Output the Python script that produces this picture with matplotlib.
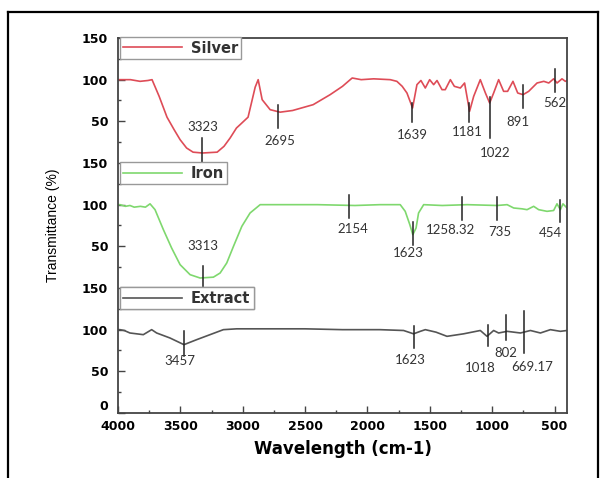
import matplotlib
matplotlib.use("Agg")
import matplotlib.pyplot as plt
from matplotlib.lines import Line2D

# stacked FTIR spectra, transmittance values
silver_wn = [4000, 3900, 3823, 3760, 3727, 3670, 3607, 3550, 3502, 3450, 3398, 3323, 3205, 3150,
             3101, 3050, 3021, 2957, 2900, 2876, 2844, 2780, 2700, 2600, 2435, 2299, 2200, 2138,
             2122, 2050, 1950, 1817, 1764, 1721, 1683, 1638, 1603, 1571, 1536, 1501, 1469, 1442,
             1402, 1376, 1335, 1303, 1255, 1221, 1181, 1148, 1095, 1054, 1020, 988, 948, 908, 876,
             833, 795, 752, 707, 640, 586, 546, 507, 480, 440, 413, 400]
silver_t = [100, 100, 98, 99, 100, 80, 55, 40, 28, 18, 13, 12, 13, 20,
            30, 42, 46, 55, 91, 100, 76, 64, 61, 63, 70, 82, 92, 100,
            102, 100, 101, 100, 98, 92, 84, 66, 94, 99, 90, 100, 94, 99,
            88, 88, 100, 92, 90, 96, 62, 80, 100, 84, 72, 84, 100, 86, 86,
            98, 84, 82, 86, 96, 98, 96, 101, 96, 101, 98, 99]

iron_wn = [4000, 3984, 3940, 3904, 3870, 3820, 3780, 3743, 3703, 3636, 3570, 3502, 3422, 3342,
           3235, 3181, 3128, 3074, 3007, 2941, 2860, 2700, 2400, 2100, 1900, 1737, 1697, 1660,
           1636, 1610, 1590, 1549, 1400, 1200, 961, 880, 827, 760, 720, 667, 627, 560, 507, 480,
           453, 432, 400]
iron_t = [100, 100, 98, 99, 97, 98, 97, 101, 94, 70, 48, 28, 16, 12,
          13, 18, 30, 50, 74, 90, 100, 100, 100, 99, 100, 100, 92, 76,
          64, 72, 90, 100, 99, 100, 99, 100, 96, 95, 94, 98, 94, 92, 93, 101,
          94, 101, 96]

extract_wn = [4000, 3984, 3950, 3904, 3850, 3797, 3730, 3690, 3583, 3471, 3369, 3262, 3155, 3048,
              2800, 2500, 2200, 1900, 1710, 1630, 1576, 1536, 1450, 1362, 1229, 1095, 1041, 988,
              948, 880, 773, 693, 613, 533, 453, 400]
extract_t = [100, 100, 99, 96, 95, 94, 100, 96, 90, 82, 88, 94, 100, 101,
             101, 101, 100, 100, 99, 95, 98, 100, 97, 92, 95, 99, 92, 99,
             96, 98, 96, 99, 96, 100, 98, 99]

names = ["Silver", "Iron", "Extract"]
offsets = [300, 150, 0]
colors = ["#de4c57", "#7fd86e", "#555555"]

# peak labels: (text, line x, line y top, line y bottom, text x, text y) in each series' units
silver_peaks = [("3323", 3324, 30, 1, 3323, 43), ("2695", 2716, 70, 42, 2700, 26),
                ("1639", 1640, 72, 49, 1640, 34), ("1181", 1183, 72, 49, 1199, 37),
                ("1022", 1021, 79, 30, 974, 12), ("891", 756, 94, 66, 790, 49),
                ("562", 493, 113, 85, 501, 72)]
iron_peaks = [("3313", 3315, 26, -2, 3318, 50), ("2154", 2144, 112, 84, 2114, 71),
              ("1623", 1636, 79, 52, 1673, 42), ("1258.32", 1242, 109, 82, 1335, 70),
              ("735", 961, 109, 82, 942, 67), ("454", 453, 106, 79, 533, 66)]
extract_peaks = [("3457", 3470, 98, 68, 3502, 62), ("1623", 1630, 104, 78, 1657, 64),
                 ("1018", 1036, 106, 80, 1095, 54), ("802", 886, 118, 88, 894, 72),
                 ("669.17", 747, 122, 72, 681, 55)]

yticks = [0, 50, 100, 150, 200, 250, 300, 350, 400, 450]
ytick_labels = ["0", "50", "100", "150", "50", "100", "150", "50", "100", "150"]
xticks = [4000, 3500, 3000, 2500, 2000, 1500, 1000, 500]

fig = plt.figure(figsize=(6.06, 4.78), dpi=100)
ax = fig.add_axes([0.1947, 0.136, 0.7409, 0.7845])

series = [(silver_wn, silver_t), (iron_wn, iron_t), (extract_wn, extract_t)]
peaks = [silver_peaks, iron_peaks, extract_peaks]
lines = []
for (wn, t), off, c, nm in zip(series, offsets, colors, names):
    ln, = ax.plot(wn, [v + off for v in t], color=c, lw=1.2, label=nm)
    lines.append(ln)

for pk, off in zip(peaks, offsets):
    for txt, lx, y1, y2, tx, ty in pk:
        ax.plot([lx, lx], [y1 + off, y2 + off], color="#222222", lw=1.1, clip_on=False)
        ax.text(tx, ty + off, txt, ha="center", va="center", fontsize=9.5,
                family=["Lato", "DejaVu Sans"], color="#333333")

ax.set_xlim(4000, 400)
ax.set_ylim(0, 450)
ax.set_xticks(xticks)
ax.set_xticks([3750, 3250, 2750, 2250, 1750, 1250, 750], minor=True)
ax.set_yticks(yticks)
ax.set_yticklabels(ytick_labels)
ax.set_yticks([v + 25 for v in yticks[:-1]], minor=True)
ax.tick_params(which="major", direction="in", length=5, width=1, color="#444444")
ax.tick_params(which="minor", direction="in", length=2.5, width=1, color="#444444")
ax.tick_params(axis="y", which="major", pad=7)
ax.tick_params(axis="x", which="major", pad=5)
for lab in ax.get_xticklabels() + ax.get_yticklabels():
    lab.set_fontweight("bold")
    lab.set_fontsize(9)
# nudge the "0" label up a little so it clears "4000"
ax.get_yticklabels()[0].set_va("bottom")
for sp in ax.spines.values():
    sp.set_color("#444444")
    sp.set_linewidth(1.3)

ax.set_xlabel("Wavelength (cm-1)", fontsize=12, fontweight="bold", labelpad=5)
ax.set_ylabel("Transmittance (%)", fontsize=10, family=["Liberation Sans Narrow", "Liberation Sans"],
              labelpad=16)

# one legend box per spectrum, at the top of its band
for ln, top in zip(lines, [1.003, 0.669, 0.336]):
    leg = ax.legend(handles=[ln], loc="upper left", bbox_to_anchor=(0.004, top),
                    borderaxespad=0, fancybox=False, edgecolor="#999999", framealpha=1,
                    handlelength=4.0, handletextpad=0.6, borderpad=0.25,
                    prop={"weight": "bold", "size": 10.5})
    leg.get_frame().set_linewidth(1.0)
    leg.get_texts()[0].set_color("#333333")
    ax.add_artist(leg)

# outer frame of the picture
for xs, ys in [([0.0132, 0.0132], [0.0, 0.975]), ([0.0132, 0.987], [0.975, 0.975]),
               ([0.987, 0.987], [0.975, 0.0])]:
    fig.add_artist(Line2D(xs, ys, transform=fig.transFigure, color="black", lw=1.6))

fig.savefig("out.png", dpi=100)
